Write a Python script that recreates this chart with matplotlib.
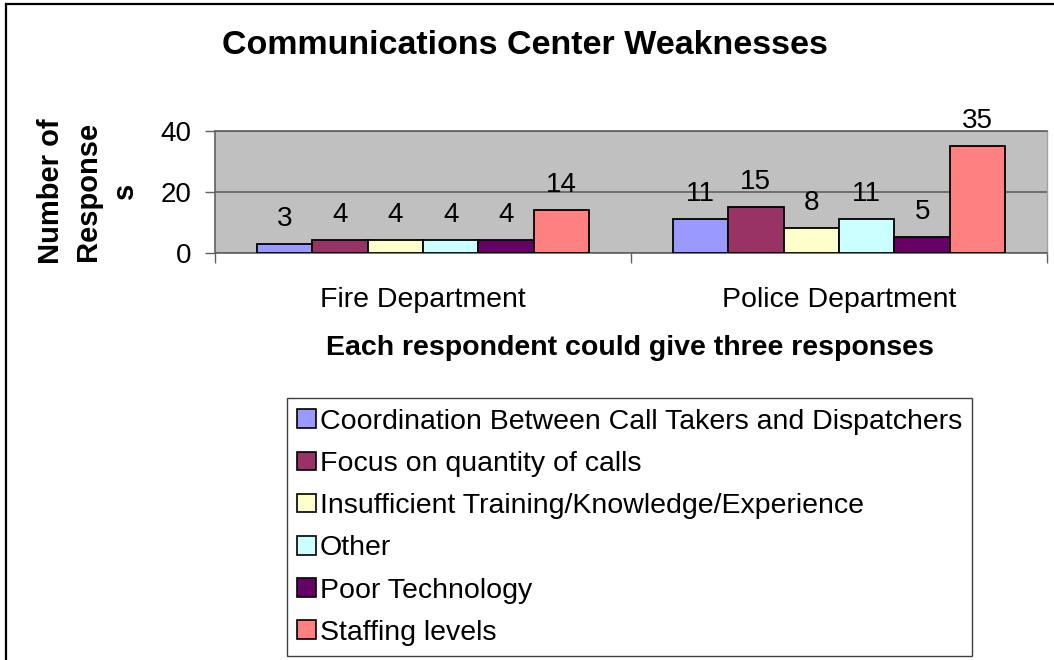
import matplotlib
matplotlib.use("Agg")
import matplotlib.pyplot as plt
from matplotlib.lines import Line2D
from matplotlib.patches import Patch
import numpy as np

plt.rcParams['font.family'] = ['Liberation Sans', 'DejaVu Sans']

categories = ["Fire Department", "Police Department"]
series_names = [
    "Coordination Between Call Takers and Dispatchers",
    "Focus on quantity of calls",
    "Insufficient Training/Knowledge/Experience",
    "Other",
    "Poor Technology",
    "Staffing levels",
]
values = [
    [3, 11],
    [4, 15],
    [4, 8],
    [4, 11],
    [4, 5],
    [14, 35],
]
colors = ["#9999FF", "#993366", "#FFFFCC", "#CCFFFF", "#660066", "#FF8080"]
yticks = [0, 20, 40]

W, H = 1054, 660
fig = plt.figure(figsize=(W / 100, H / 100), dpi=100)

def fx(px):
    return px / W

def fy(py):
    return 1 - py / H

ax = fig.add_axes([fx(215), fy(252.7), fx(1047) - fx(215), fy(130.7) - fy(252.7)])
ax.set_facecolor("#C0C0C0")

n = len(series_names)
group_w = 0.8
bw = group_w / n
x = np.arange(len(categories))
for i, (name, vals, c) in enumerate(zip(series_names, values, colors)):
    pos = x + (i - (n - 1) / 2) * bw
    bars = ax.bar(pos, vals, width=bw, color=c, edgecolor="black", linewidth=1.3,
                  label=name, zorder=3)
    for b, v in zip(bars, vals):
        ax.annotate(str(v), (b.get_x() + b.get_width() / 2, b.get_height()),
                    xytext=(0, 18), textcoords="offset points", ha="center",
                    va="center", fontsize=20, color="black", zorder=4)

ax.set_xlim(-0.5, 1.5)
ax.set_ylim(0, 40)
ax.set_yticks(yticks)
ax.set_yticklabels([str(t) for t in yticks], fontsize=20)
ax.tick_params(axis="y", direction="out", length=7.2, width=1, color="#606060", pad=10)
ax.set_xticks(x)
ax.set_xticklabels(categories, fontsize=20.5)
ax.tick_params(axis="x", which="major", length=0, pad=25)
ax.set_xticks([-0.5, 0.5, 1.5], minor=True)
ax.tick_params(axis="x", which="minor", direction="out", length=7.2, width=1, color="#606060")

ax.yaxis.grid(True, color="#606060", linewidth=1.2, zorder=1)
ax.set_axisbelow(True)
for s in ["left", "bottom", "top"]:
    ax.spines[s].set_color("#606060")
    ax.spines[s].set_linewidth(1.2)
ax.spines["right"].set_color("#A0A0A0")
ax.spines["right"].set_linewidth(1.0)

fig.text(fx(525), fy(46), "Communications Center Weaknesses", ha="center", va="center",
         fontsize=24.5, fontweight="bold")
fig.text(fx(630), fy(348), "Each respondent could give three responses", ha="center",
         va="center", fontsize=20.5, fontweight="bold")
fig.text(fx(88), fy(191), "Number of\nResponse\ns", ha="center", va="center",
         rotation=90, fontsize=21, fontweight="bold", linespacing=1.42,
         multialignment="center")

handles = [Patch(facecolor=c, edgecolor="black", linewidth=1.2) for c in colors]
leg = fig.legend(handles, series_names, loc="lower left",
                 bbox_to_anchor=(fx(287), fy(656)), borderaxespad=0,
                 fontsize=20.5, frameon=True, fancybox=False, framealpha=1,
                 edgecolor="#404040", handlelength=0.67, handleheight=0.63,
                 handletextpad=0.12, labelspacing=0.57, borderpad=0.36)
leg.get_frame().set_linewidth(1.0)

fig.add_artist(Line2D([fx(6), fx(6)], [0, fy(4)], color="black", linewidth=1.6))
fig.add_artist(Line2D([fx(6), 1], [fy(4), fy(4)], color="black", linewidth=1.6))

fig.savefig("out.png", dpi=100)
